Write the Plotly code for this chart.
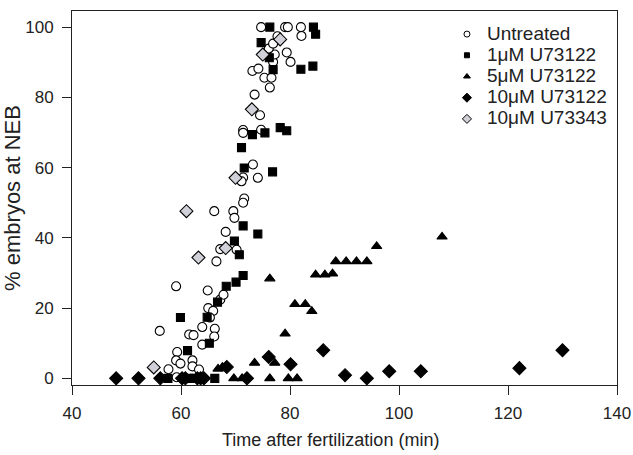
import plotly.graph_objects as go

# Time after fertilization (min) and % embryos at NEB, per treatment
untreated_x = [56.1, 57.7, 59.1, 59.3, 59.1, 59.9, 59.2, 61.5, 62.3, 62.1, 62.1, 63.3,
               63.9, 63.9, 64.9, 65.0, 65.9, 65.3, 66.2, 66.1, 67.2, 67.8, 66.5, 67.2,
               70.2, 68.2, 66.1, 69.6, 69.8, 71.6, 71.4, 71.4, 71.1, 74.1, 73.2, 71.4,
               71.4, 74.7, 74.5, 73.5, 76.3, 75.3, 76.6, 73.1, 74.2, 76.9, 80.1, 77.2,
               79.4, 76.1, 76.9, 77.7, 82.1, 74.7, 79.1, 79.6, 82.0]
untreated_y = [13.5, 2.6, 26.2, 7.5, 5.1, 4.2, 0.3, 12.5, 12.3, 5.1, 3.4, 2.5,
               14.6, 9.6, 25.0, 20.0, 19.2, 17.3, 14.1, 11.9, 22.4, 23.8, 33.3, 36.8,
               36.6, 41.7, 47.6, 47.6, 45.7, 51.2, 50.0, 57.2, 56.1, 57.1, 60.9, 70.7,
               69.9, 70.8, 74.9, 80.8, 82.8, 85.6, 85.6, 87.5, 88.2, 90.1, 90.1, 92.2,
               92.8, 93.9, 95.3, 97.4, 97.5, 100, 100, 100, 100]

u1_x = [57.6, 59.9, 61.2, 61.5, 62.5, 64.8, 65.2, 66.2, 66.7, 68.3, 70.1, 71.4, 70.7,
        69.8, 71.4, 74.1, 71.6, 76.8, 71.1, 73.1, 75.4, 78.2, 79.4, 76.9, 82.0, 84.2,
        76.2, 74.7, 76.3, 84.3, 84.7]
u1_y = [0, 17.3, 7.9, 0, 0, 17.4, 10.0, 0, 21.7, 26.2, 27.4, 29.3, 35.2,
        39.1, 43.4, 41.1, 59.9, 58.8, 65.7, 69.4, 69.9, 71.4, 70.5, 87.9, 88.0, 88.9,
        91.3, 95.6, 100, 100, 98]

u5_x = [66.8, 67.6, 69.7, 71.2, 73.5, 76.3, 77.2, 79.7, 81.3, 79.1, 76.3, 80.9, 82.8,
        84.0, 84.7, 86.4, 87.8, 88.4, 90.3, 92.2, 94.1, 95.9, 107.9]
u5_y = [2.7, 3.2, 0, 0, 4.4, 0, 4.4, 0, 0, 12.7, 28.4, 21.1, 21.1,
        19.1, 29.5, 29.5, 29.8, 33.3, 33.3, 33.3, 33.3, 37.6, 40.3]

u10_x = [48.1, 52.2, 56.2, 60.2, 60.8, 63.0, 63.6, 64.2, 68.4, 72.1, 76.1, 80.1, 86.1,
         90.1, 94.1, 98.2, 104.0, 122.1, 130.0]
u10_y = [0, 0, 0, 0, 0, 0, 0, 0, 3.2, 0, 6.1, 4.0, 8.0,
         0.9, 0, 2.0, 2.0, 2.9, 8.0]

u343_x = [55.0, 61.0, 63.2, 68.2, 70.0, 73.0, 75.0, 78.2]
u343_y = [3.1, 47.6, 34.4, 37.1, 57.1, 76.6, 92.2, 96.5]

FONT = "Liberation Sans, Arial, sans-serif"
INK = "#222"

series = [
    ("Untreated", untreated_x, untreated_y, "circle", "white", 9),
    ("1\u03bcM U73122", u1_x, u1_y, "square", "black", 8),
    ("5\u03bcM U73122", u5_x, u5_y, "triangle-up", "black", 9),
    ("10\u03bcM U73122", u10_x, u10_y, "diamond", "black", 10),
    ("10\u03bcM U73343", u343_x, u343_y, "diamond", "#d0d0d8", 10),
]

fig = go.Figure()
for name, xs, ys, symbol, color, size in series:
    fig.add_trace(go.Scatter(
        x=xs, y=ys, mode="markers", name=name, showlegend=False,
        marker=dict(symbol=symbol, size=size, color=color,
                    line=dict(color="black", width=1.1)),
    ))
# legend-only copies: small glyphs, large text, tight rows like the original key
for name, xs, ys, symbol, color, size in series:
    fig.add_trace(go.Scatter(
        x=[None], y=[None], mode="markers",
        name=f"<span style='font-size:19px'>{name}</span>",
        marker=dict(symbol=symbol, size=size - 3, color=color,
                    line=dict(color="black", width=1)),
    ))

fig.update_layout(
    width=633,
    height=455,
    margin=dict(l=72, r=16, t=11, b=70, autoexpand=False),
    paper_bgcolor="white",
    plot_bgcolor="white",
    font=dict(family=FONT, size=18, color=INK),
    legend=dict(x=0.688, y=0.980, xanchor="left", yanchor="top",
                bgcolor="rgba(0,0,0,0)", font=dict(size=14),
                itemsizing="trace", tracegroupgap=0),
)
# x title sits a little left of the plot centre in the original
fig.add_annotation(
    text="Time after fertilization (min)", showarrow=False,
    xref="paper", yref="paper", x=0.474, y=0,
    xanchor="center", yanchor="middle", yshift=-55,
)
fig.update_xaxes(
    range=[40, 140], tickvals=[40, 60, 80, 100, 120, 140],
    ticks="outside", ticklen=9, tickcolor=INK, tickfont=dict(size=17),
    ticklabelstandoff=4,
    showline=True, linecolor=INK, linewidth=1, mirror=True,
    showgrid=False, zeroline=False,
)
fig.update_yaxes(
    range=[-1.9, 104.6], tickvals=[0, 20, 40, 60, 80, 100],
    ticks="outside", ticklen=9, tickcolor=INK, tickfont=dict(size=17),
    ticklabelstandoff=5,
    showline=True, linecolor=INK, linewidth=1, mirror=True,
    showgrid=False, zeroline=False,
    title=dict(text="% embryos at NEB", standoff=1),
)

fig.write_html("out.html", config={"displayModeBar": False},
               post_script="document.body.style.margin='0';")
